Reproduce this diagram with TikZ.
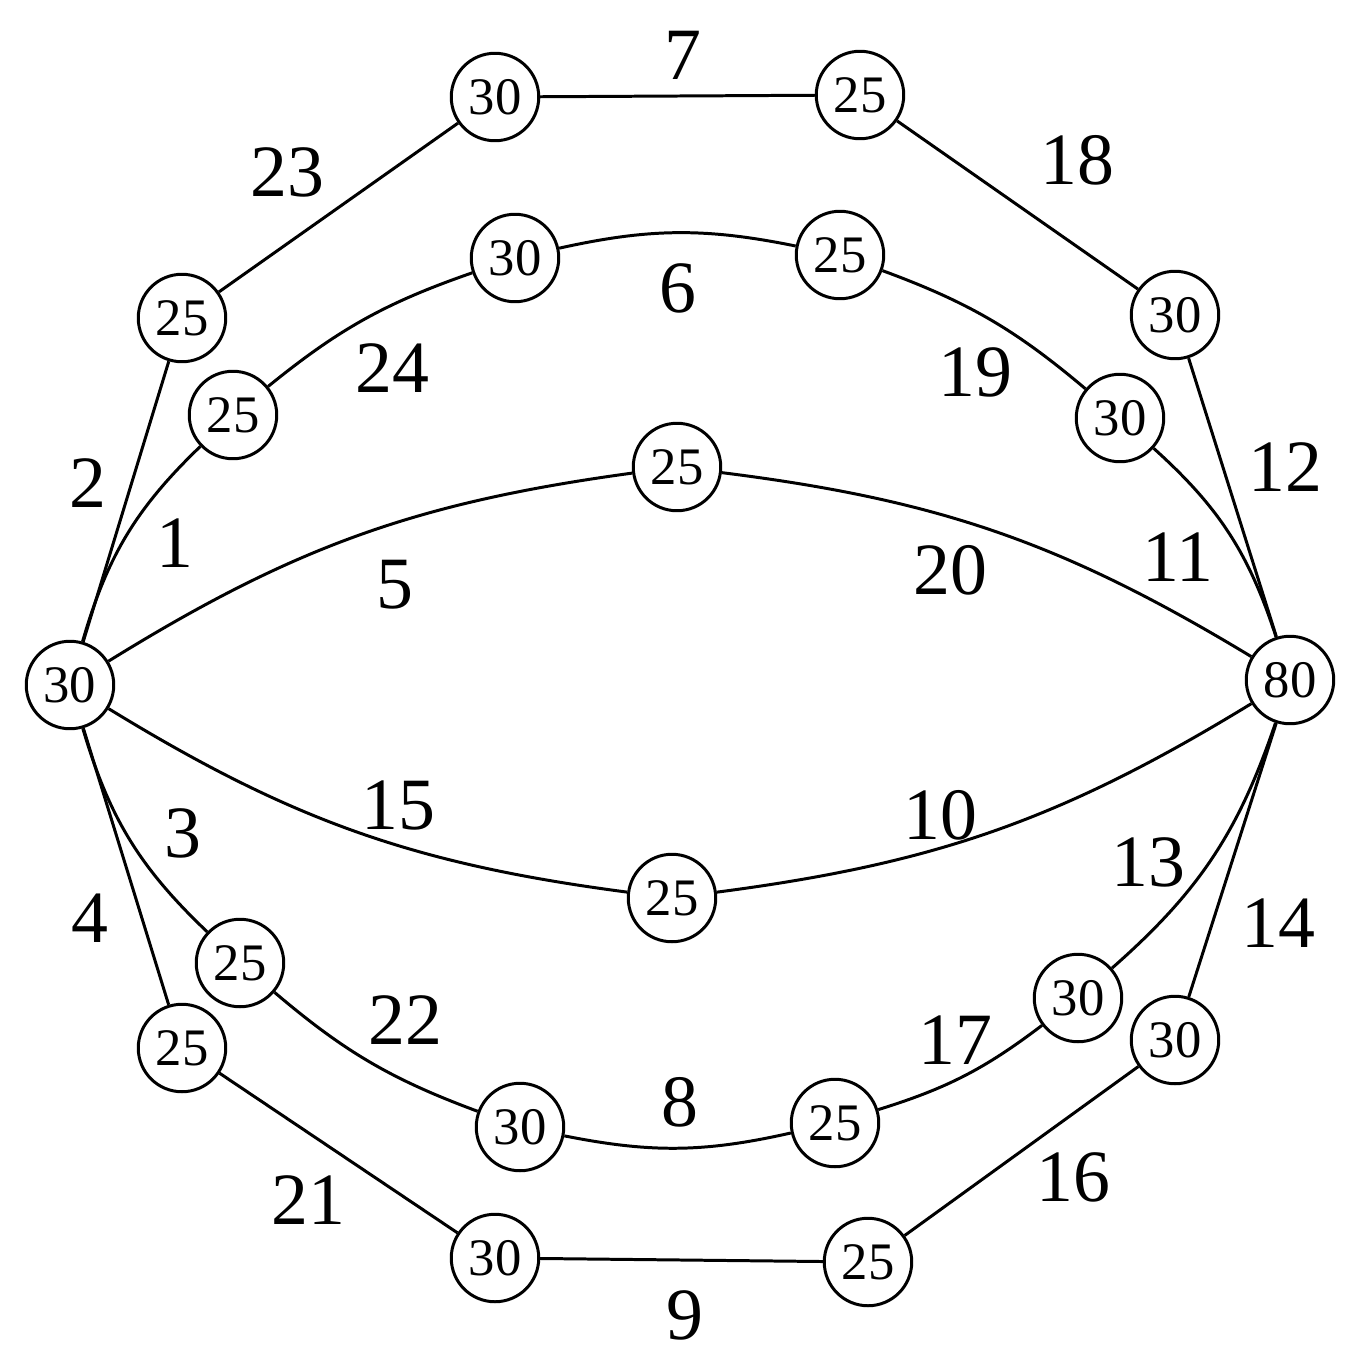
\documentclass[tikz,border=0pt]{standalone}
\usepackage{fontspec}
\setmainfont{Liberation Serif}
\begin{document}
\begin{tikzpicture}[x=0.02cm,y=-0.02cm,
  vtx/.style={circle,draw,line width=1.7pt,minimum size=1.75cm,inner sep=0pt,font=\fontsize{30}{30}\selectfont},
  lab/.style={font=\fontsize{42}{42}\selectfont},
  every path/.style={line width=1.7pt}]
\useasboundingbox (0,0) rectangle (1356,1370);
\node[vtx] (L) at (70,685) {30};
\node[vtx] (R) at (1290,680) {80};
\node[vtx] (A) at (495,97) {30};
\node[vtx] (B) at (860,95) {25};
\node[vtx] (C) at (1175,315) {30};
\node[vtx] (D) at (182,318) {25};
\node[vtx] (E) at (515,258) {30};
\node[vtx] (F) at (840,255) {25};
\node[vtx] (G) at (1120,418) {30};
\node[vtx] (H) at (233,415) {25};
\node[vtx] (M1) at (677,467) {25};
\node[vtx] (M2) at (672,898) {25};
\node[vtx] (I) at (240,963) {25};
\node[vtx] (J) at (520,1127) {30};
\node[vtx] (K) at (835,1123) {25};
\node[vtx] (Q2) at (1078,998) {30};
\node[vtx] (N) at (182,1048) {25};
\node[vtx] (O) at (495,1258) {30};
\node[vtx] (P) at (868,1262) {25};
\node[vtx] (Q) at (1175,1040) {30};
\draw (L)--(D) (D)--(A) (A)--(B) (B)--(C) (C)--(R);
\draw (L)--(N) (N)--(O) (O)--(P) (P)--(Q) (Q)--(R);
\draw (L) to[bend left=15] (H);
\draw (H) to[bend left=10] (E);
\draw (E) to[bend left=12] (F);
\draw (F) to[bend left=10] (G);
\draw (G) to[bend left=15] (R);
\draw (L) to[bend left=12] (M1);
\draw (M1) to[bend left=12] (R);
\draw (L) to[bend right=12] (M2);
\draw (M2) to[bend right=12] (R);
\draw (L) to[bend right=15] (I);
\draw (I) to[bend right=10] (J);
\draw (J) to[bend right=12] (K);
\draw (K) to[bend right=10] (Q2);
\draw (Q2) to[bend right=15] (R);
\foreach \t/\x/\y in {7/683/55,23/287/172,18/1077/160,6/678/288,24/392/368,19/975/372,2/88/483,1/175/543,12/1285/467,11/1178/557,5/395/585,20/950/570,15/398/805,10/940/815,3/183/833,13/1148/862,4/90/918,14/1278/923,22/405/1020,17/955/1040,8/680/1102,21/308/1200,16/1073/1177,9/685/1315}
  \node[lab] (l\t) at (\x,\y) {\t};
\end{tikzpicture}
\end{document}
